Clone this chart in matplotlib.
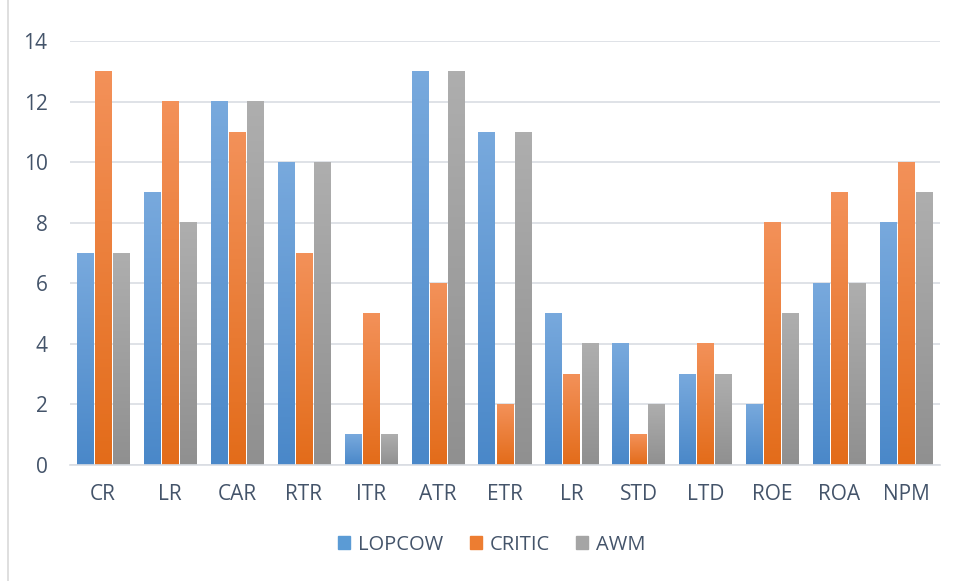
import numpy as np
import matplotlib
matplotlib.use("Agg")
import matplotlib.pyplot as plt
from matplotlib.colors import LinearSegmentedColormap
from matplotlib.patches import Rectangle

categorias = ["CR", "LR", "CAR", "RTR", "ITR", "ATR", "ETR", "LR", "STD", "LTD", "ROE", "ROA", "NPM"]
lopcow = [7, 9, 12, 10, 1, 13, 11, 5, 4, 3, 2, 6, 8]
critic = [13, 12, 11, 7, 5, 6, 2, 3, 1, 4, 8, 9, 10]
awm = [7, 8, 12, 10, 1, 13, 11, 4, 2, 3, 5, 6, 9]

series = [("LOPCOW", lopcow, "#5b9bd5", "#78a9dd", "#4a88c9"),
          ("CRITIC", critic, "#ed7d31", "#f39159", "#e36c1a"),
          ("AWM", awm, "#a5a5a5", "#aeaeae", "#909090")]

plt.rcParams['font.family'] = ['Open Sans', 'DejaVu Sans']
color_txt = "#44546a"

fig = plt.figure(figsize=(9.55, 5.81), dpi=100)
ax = fig.add_axes([0.073, 0.2, 0.911, 0.729])

x = np.arange(len(categorias))
ancho = 0.245
paso = 0.27
for i, (nombre, vals, col, top, bot) in enumerate(series):
    barras = ax.bar(x + (i - 1) * paso, vals, ancho, color=col, label=nombre, zorder=2)
    cmap = LinearSegmentedColormap.from_list(nombre, [bot, top])
    for b in barras:
        b.set_facecolor("none")
        x0, y0 = b.get_x(), b.get_y()
        w, h = b.get_width(), b.get_height()
        ax.imshow(np.linspace(0, 1, 100).reshape(-1, 1), cmap=cmap, origin="lower",
                  extent=[x0, x0 + w, y0, y0 + h], aspect="auto", zorder=2)

ax.set_xlim(-0.5, len(categorias) - 0.5)
ax.set_ylim(0, 14)
ax.set_yticks(range(0, 15, 2))
ax.set_xticks(x)
ax.set_xticklabels(categorias)
ax.yaxis.grid(True, color="#d9dde3", linewidth=1.2, zorder=0)
for s in ["top", "right", "left"]:
    ax.spines[s].set_visible(False)
ax.spines["bottom"].set_color("#d9dde3")
ax.spines["bottom"].set_linewidth(1.2)
ax.tick_params(axis="both", length=0, labelsize=15, colors=color_txt)
ax.tick_params(axis="y", pad=16)
ax.tick_params(axis="x", pad=14)

handles = [Rectangle((0, 0), 1, 1, color=c) for _, _, c, _, _ in series]
fig.legend(handles, [s[0] for s in series], loc="center", bbox_to_anchor=(0.515, 0.062),
           ncol=3, frameon=False, fontsize=14.5, labelcolor=color_txt,
           handlelength=0.6, handleheight=0.6, columnspacing=1.3, handletextpad=0.4)

fig.patches.append(Rectangle((0.008, -0.01), 1.0, 1.02, transform=fig.transFigure,
                             fill=False, edgecolor="#d9d9d9", linewidth=1.2))

fig.savefig("out.png", dpi=100)
